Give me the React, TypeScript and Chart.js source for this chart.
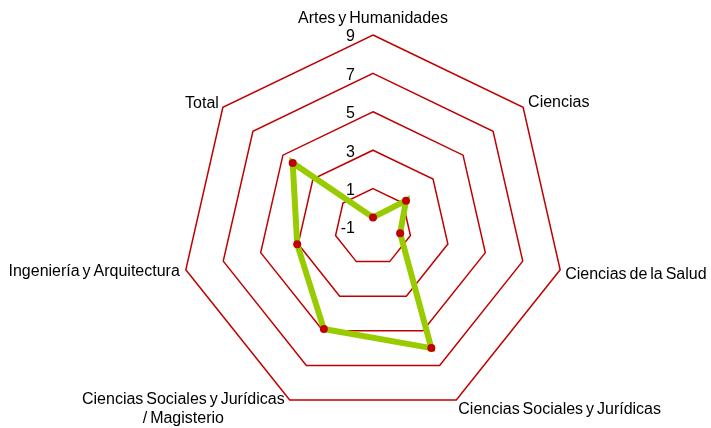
import React, { useEffect, useRef } from 'react';
import { Chart, registerables } from 'chart.js';

Chart.register(...registerables);

const categories: string[][] = [
  ['Artes y Humanidades'],
  ['Ciencias'],
  ['Ciencias de la Salud'],
  ['Ciencias Sociales y Jurídicas'],
  ['Ciencias Sociales y Jurídicas', '/ Magisterio'],
  ['Ingeniería y Arquitectura'],
  ['Total'],
];
const values: number[] = [-0.5, 1.2, 0.45, 6.0, 4.9, 3.05, 4.35];
const tickValues: number[] = [-1, 1, 3, 5, 7, 9];

const FONT = '16px "Liberation Sans", Arial, sans-serif';

const setText = (ctx: any) => {
  ctx.font = FONT;
  ctx.fillStyle = '#000';
  try {
    ctx.wordSpacing = '-1.5px';
  } catch (e) {
    /* ignore */
  }
};

const tickPlugin = {
  id: 'tickText',
  beforeDatasetsDraw(chart: any) {
    const scale = chart.scales.r;
    const ctx = chart.ctx;
    ctx.save();
    setText(ctx);
    ctx.textAlign = 'right';
    ctx.textBaseline = 'middle';
    tickValues.forEach((v) => {
      const d = scale.getDistanceFromCenterForValue(v);
      ctx.fillText(String(v), scale.xCenter - 18, scale.yCenter - d + 2);
    });
    ctx.restore();
  },
};

const labelPlugin = {
  id: 'pointText',
  afterDraw(chart: any) {
    const scale = chart.scales.r;
    const ctx = chart.ctx;
    ctx.save();
    setText(ctx);
    ctx.textBaseline = 'middle';
    const n = categories.length;
    for (let i = 0; i < n; i++) {
      const p = scale.getPointPosition(i, scale.drawingArea);
      const lines = categories[i];
      const dx = p.x - scale.xCenter;
      const dy = p.y - scale.yCenter;
      if (lines.length > 1) {
        const widths = lines.map((l) => ctx.measureText(l).width);
        const maxW = Math.max(...widths);
        const cx = p.x - 5 - maxW / 2;
        ctx.textAlign = 'center';
        lines.forEach((l, k) => ctx.fillText(l, cx, p.y + 0 + k * 19));
      } else if (Math.abs(dx) < 5) {
        ctx.textAlign = 'center';
        ctx.fillText(lines[0], p.x, p.y - 16);
      } else if (dx > 0) {
        ctx.textAlign = 'left';
        const oy = dy < -50 ? -5 : dy > 100 ? 10 : 5;
        ctx.fillText(lines[0], p.x + (dy > 100 ? 2 : 5), p.y + oy);
      } else {
        ctx.textAlign = 'right';
        const oy = dy < -50 ? -4 : 2;
        ctx.fillText(lines[0], p.x - (dy < -50 ? 4 : 6), p.y + oy);
      }
    }
    ctx.restore();
  },
};

export default function App() {
  const ref = useRef<HTMLCanvasElement | null>(null);
  useEffect(() => {
    if (!ref.current) return;
    const chart = new Chart(ref.current, {
      type: 'radar',
      data: {
        labels: categories.map((c) => c.join(' ')),
        datasets: [
          {
            data: values,
            borderColor: '#99cc00',
            borderWidth: 6,
            backgroundColor: 'transparent',
            fill: false,
            tension: 0,
            pointRadius: 4,
            pointBackgroundColor: '#c00000',
            pointBorderColor: '#c00000',
            pointBorderWidth: 0,
          },
        ],
      },
      options: {
        responsive: false,
        animation: false,
        layout: { padding: { left: 35, right: 0, top: 35, bottom: 9 } },
        plugins: { legend: { display: false }, tooltip: { enabled: false } },
        scales: {
          r: {
            min: -1,
            max: 9,
            ticks: { display: false, stepSize: 2 },
            grid: { circular: false, color: '#c00000', lineWidth: 1.5 },
            angleLines: { display: false },
            pointLabels: { display: false },
          },
        },
      },
      plugins: [tickPlugin, labelPlugin],
    });
    return () => chart.destroy();
  }, []);
  return (
    <div style={{ position: 'absolute', left: 0, top: 0, width: 711, height: 428, background: '#fff' }}>
      <canvas ref={ref} width={711} height={428} />
    </div>
  );
}
